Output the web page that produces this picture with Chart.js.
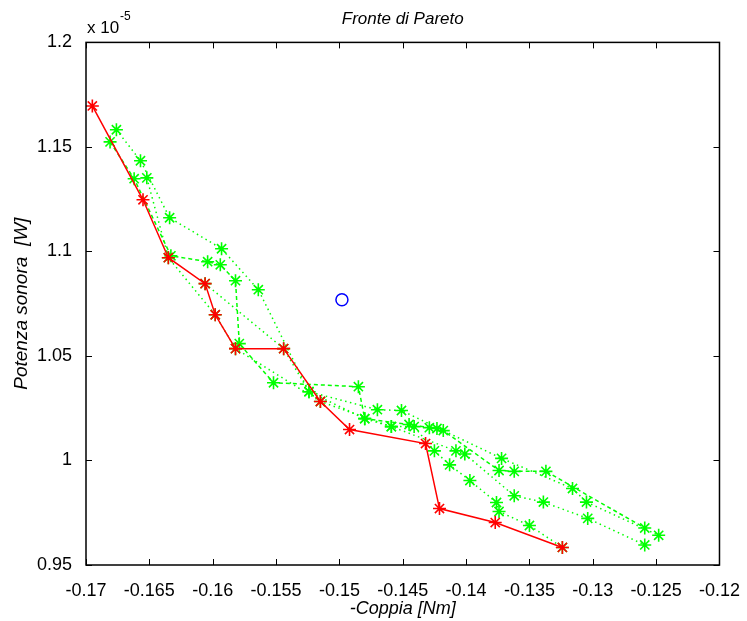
<!DOCTYPE html>
<html>
<head>
<meta charset="utf-8">
<title>Fronte di Pareto</title>
<script src="https://cdn.jsdelivr.net/npm/chart.js@4.4.0/dist/chart.umd.min.js"></script>
<style>
    body { margin: 0; background: #fff; }
    #chart { display: block; }
</style>
</head>
<body>
<canvas id="chart" width="747" height="621"></canvas>
<script>
// Y VALUES ARE IN 1e-5 W (the axis shows "x 10^-5")

// final front (red)
let frontX = [-0.1695, -0.1655, -0.1635, -0.1606, -0.1598, -0.1582, -0.1544, -0.1515, -0.1492, -0.1432, -0.1421, -0.1377, -0.1324];
let frontY = [1.1696, 1.1247, 1.0970, 1.0846, 1.0697, 1.0535, 1.0535, 1.0282, 1.0148, 1.0081, 0.9770, 0.9703, 0.9584];

// earlier fronts (green)
let gen1X = [-0.1676, -0.1657, -0.1634, -0.1593, -0.1564, -0.1524, -0.1470, -0.1451, -0.1372, -0.1316, -0.1305, -0.1248];
let gen1Y = [1.1582, 1.1434, 1.1161, 1.1013, 1.0817, 1.0329, 1.0243, 1.0239, 1.0010, 0.9866, 0.9801, 0.9642];

let gen2X = [-0.1681, -0.1662, -0.1633, -0.1604, -0.1594, -0.1582, -0.1579, -0.1552, -0.1485, -0.1480, -0.1445, -0.1429, -0.1423, -0.1418, -0.1374, -0.1362, -0.1337, -0.1259];
let gen2Y = [1.1524, 1.1348, 1.0979, 1.0951, 1.0936, 1.0860, 1.0559, 1.0372, 1.0353, 1.0200, 1.0172, 1.0157, 1.0153, 1.0143, 0.9952, 0.9948, 0.9948, 0.9677];

let gen3X = [-0.1652, -0.1635, -0.1598, -0.1582, -0.1515, -0.1459, -0.1441, -0.1425, -0.1413, -0.1397, -0.1376, -0.1374, -0.1350, -0.1324];
let gen3Y = [1.1352, 1.0970, 1.0697, 1.0535, 1.0282, 1.0162, 1.0162, 1.0046, 0.9979, 0.9904, 0.9799, 0.9756, 0.9689, 0.9584];

let gen4X = [-0.1606, -0.1544, -0.1524, -0.1480, -0.1459, -0.1408, -0.1401, -0.1362, -0.1339, -0.1304, -0.1259];
let gen4Y = [1.0846, 1.0535, 1.0329, 1.0200, 1.0162, 1.0046, 1.0031, 0.9831, 0.9801, 0.9723, 0.9596];

// starting point (blue circle)
let startX = [-0.1498];
let startY = [1.0769];

let xTicks = [-0.17, -0.165, -0.16, -0.155, -0.15, -0.145, -0.14, -0.135, -0.13, -0.125, -0.12];
let yTicks = [0.95, 1, 1.05, 1.1, 1.15, 1.2];

const FONT = '"Liberation Sans", Arial, Helvetica, sans-serif';

function pts(xs, ys) {
    return xs.map((x, i) => ({ x: x, y: ys[i] }));
}

function greenSet(xs, ys, dash) {
    return {
        data: pts(xs, ys),
        showLine: true,
        borderColor: '#00ff00',
        borderWidth: 1.5,
        borderDash: dash,
        pointStyle: 'star',
        pointRadius: 6.5,
        pointBorderWidth: 1.6,
        pointBorderColor: '#00ff00',
        pointBackgroundColor: '#00ff00'
    };
}

// box round the plot with inward ticks, plus the exponent label
const frame = {
    id: 'frame',
    afterDraw(chart) {
        let ctx = chart.ctx;
        let a = chart.chartArea;
        let sx = chart.scales.x;
        let sy = chart.scales.y;
        ctx.save();
        ctx.strokeStyle = '#000';
        ctx.lineWidth = 1;
        ctx.beginPath();
        sx.ticks.forEach(t => {
            let px = Math.round(sx.getPixelForValue(t.value)) + 0.5;
            ctx.moveTo(px, a.bottom); ctx.lineTo(px, a.bottom - 6);
            ctx.moveTo(px, a.top); ctx.lineTo(px, a.top + 6);
        });
        sy.ticks.forEach(t => {
            let py = Math.round(sy.getPixelForValue(t.value)) + 0.5;
            ctx.moveTo(a.left, py); ctx.lineTo(a.left + 6, py);
            ctx.moveTo(a.right, py); ctx.lineTo(a.right - 6, py);
        });
        ctx.stroke();
        ctx.lineWidth = 1.5;
        ctx.strokeRect(a.left, a.top, a.right - a.left, a.bottom - a.top);

        ctx.fillStyle = '#000';
        ctx.textAlign = 'left';
        ctx.textBaseline = 'middle';
        ctx.font = '17px ' + FONT;
        ctx.fillText('x 10', a.left + 1, 28);
        ctx.font = '12px ' + FONT;
        ctx.fillText('-5', a.left + 34, 17);
        ctx.restore();
    }
};

let ctx = document.querySelector('#chart').getContext('2d');

new Chart(ctx, {
    type: 'scatter',
    data: {
        datasets: [
            {
                data: pts(startX, startY),
                pointStyle: 'circle',
                pointRadius: 6,
                pointBorderWidth: 1.5,
                pointBorderColor: '#0000ff',
                pointBackgroundColor: 'rgba(0,0,0,0)'
            },
            {
                data: pts(frontX, frontY),
                showLine: true,
                borderColor: '#ff0000',
                borderWidth: 1.5,
                pointStyle: 'star',
                pointRadius: 6.5,
                pointBorderWidth: 1.6,
                pointBorderColor: '#ff0000',
                pointBackgroundColor: '#ff0000'
            },
            greenSet(gen1X, gen1Y, [1.5, 3.5]),
            greenSet(gen2X, gen2Y, [4, 3]),
            greenSet(gen3X, gen3Y, [1.5, 3.5]),
            greenSet(gen4X, gen4Y, [1.5, 3.5])
        ]
    },
    options: {
        responsive: false,
        animation: false,
        layout: { padding: { right: 20 } },
        plugins: {
            legend: { display: false },
            tooltip: { enabled: false },
            title: {
                display: true,
                text: 'Fronte di Pareto',
                fullSize: false,
                color: '#000',
                font: { family: FONT, size: 17, style: 'italic', weight: 'normal' },
                padding: { top: 9, bottom: 13 }
            }
        },
        scales: {
            x: {
                type: 'linear',
                min: -0.17,
                max: -0.12,
                grid: { display: false },
                border: { display: false },
                afterBuildTicks: (scale) => { scale.ticks = xTicks.map(v => ({ value: v })); },
                afterFit: (scale) => { scale.height = 56; },
                ticks: {
                    color: '#000',
                    padding: 7,
                    maxRotation: 0,
                    font: { family: FONT, size: 18 },
                    callback: (v) => String(v)
                },
                title: {
                    display: true,
                    text: '-Coppia [Nm]',
                    color: '#000',
                    font: { family: FONT, size: 18, style: 'italic', weight: 'normal' },
                    padding: { top: 0, bottom: 1 }
                }
            },
            y: {
                type: 'linear',
                min: 0.95,
                max: 1.2,
                grid: { display: false },
                border: { display: false },
                afterBuildTicks: (scale) => { scale.ticks = yTicks.map(v => ({ value: v })); },
                afterFit: (scale) => { scale.width = 86; },
                ticks: {
                    color: '#000',
                    padding: 6,
                    font: { family: FONT, size: 18 },
                    callback: (v) => String(v)
                },
                title: {
                    display: true,
                    text: 'Potenza sonora  [W]',
                    color: '#000',
                    font: { family: FONT, size: 19, style: 'italic', weight: 'normal' },
                    padding: { top: 10, bottom: 0 }
                }
            }
        }
    },
    plugins: [frame]
});
</script>
</body>
</html>
